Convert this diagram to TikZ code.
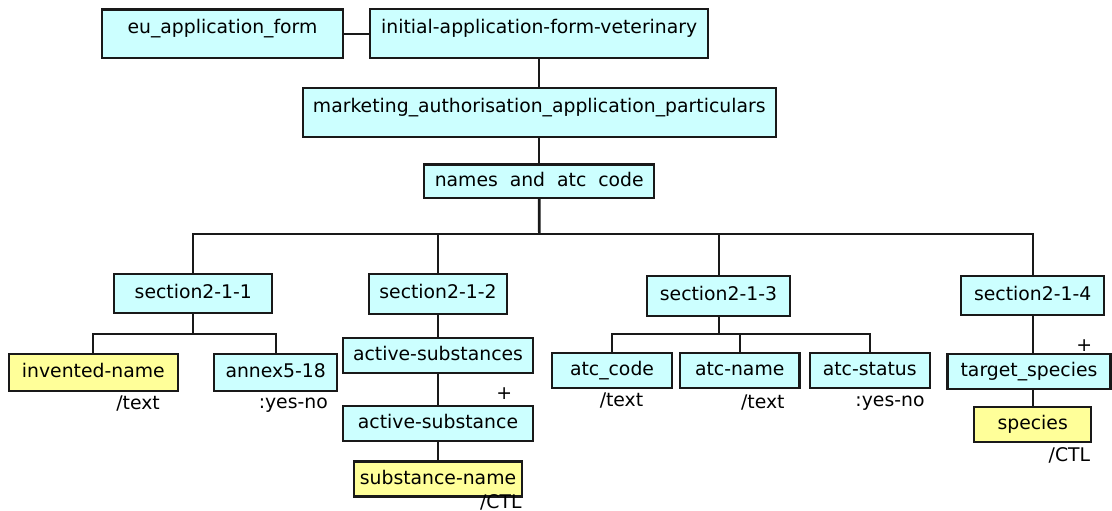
\documentclass[tikz,border=0pt]{standalone}
\usepackage{fontspec}
\setmainfont{DejaVu Sans}
\usetikzlibrary{positioning}
\definecolor{cyanbox}{HTML}{CCFFFF}
\definecolor{yellowbox}{HTML}{FFFF99}
\newcommand{\nodefont}{\fontsize{18.8}{22}\selectfont}

\begin{document}
\begin{tikzpicture}[
    x=1pt, y=-1pt,
    box/.style={rectangle, draw=black!90, line width=2.2pt, fill=cyanbox,
      inner sep=0pt, text height=14pt, text depth=4pt, font=\nodefont},
    tall/.style={box, text depth=15pt},
    leaf/.style={box, fill=yellowbox},
    line/.style={line width=2pt, black!90},
    lab/.style={inner sep=0pt, font=\nodefont}
  ]
    \useasboundingbox (0,0) rectangle (1112,511);

    \node[tall, minimum width=338pt, minimum height=49pt] (init) at (539.2,33.8) {initial-application-form-veterinary};
    \node[tall, minimum width=241pt, minimum height=48.7pt, left=25pt of init] (eu) {eu\_application\_form};
    \node[tall, minimum width=473pt, minimum height=48.7pt, below=27.7pt of init] (mark) {marketing\_authorisation\_application\_particulars};
    \node[box, minimum width=230pt, minimum height=33.3pt, below=25.3pt of mark] (names) {names\ \ and\ \ atc\ \ code};

    \node[box, minimum width=158pt, minimum height=39pt] (s1) at (193.3,293.8) {section2-1-1};
    \node[box, minimum width=138pt, minimum height=39.7pt] (s2) at (438,293.8) {section2-1-2};
    \node[box, minimum width=143.6pt, minimum height=39.7pt] (s3) at (718.5,295.8) {section2-1-3};
    \node[box, minimum width=143.3pt, minimum height=39.3pt] (s4) at (1032.7,295.3) {section2-1-4};

    \node[leaf, minimum width=168.7pt, minimum height=36.7pt] (inv) at (93.3,372.7) {invented-name};
    \node[box, minimum width=123.3pt, minimum height=36.7pt] (annex) at (275.7,372.7) {annex5-18};

    \node[box, minimum width=190.3pt, minimum height=35pt, below=22pt of s2] (actsubs) {active-substances};
    \node[box, minimum width=190.3pt, minimum height=35pt, below=31pt of actsubs] (actsub) {active-substance};
    \node[leaf, minimum width=168.4pt, minimum height=35pt, below=18.3pt of actsub] (subname) {substance-name};

    \node[box, minimum width=120pt, minimum height=35.6pt] (atccode) at (612,370.5) {atc\_code};
    \node[box, minimum width=119.6pt, minimum height=35.6pt, right=5.7pt of atccode] (atcname) {atc-name};
    \node[box, minimum width=120pt, minimum height=35.6pt, right=8pt of atcname] (atcstatus) {atc-status};

    \node[box, minimum width=163pt, minimum height=35pt] (target) at (1029,371.5) {target\_species};
    \node[leaf, minimum width=116.7pt, minimum height=35pt] (species) at (1032.7,424.2) {species};

    % type labels and repeat marks
    \node[lab, anchor=base east] (invtype) at (160,409) {/text};
    \node[lab, anchor=base east] (annextype) at (328,408) {:yes-no};
    \node[lab, anchor=base east] (subnametype) at (521.7,508.3) {/CTL};
    \node[lab, anchor=base] (atccodetype) at (621.5,406) {/text};
    \node[lab, anchor=base east] (atcnametype) at (784.7,408.3) {/text};
    \node[lab, anchor=base east] (atcstatustype) at (924.7,406) {:yes-no};
    \node[lab, anchor=base east] (speciestype) at (1090.3,461.7) {/CTL};
    \node[lab] (actsubplus) at (504.3,393.3) {+};
    \node[lab] (targetplus) at (1084.3,345.7) {+};

    \coordinate (bus) at (539.3,233.5);
    \coordinate (j1) at (193.3,334);
    \coordinate (j3) at (718.5,334);

    \draw[line] (eu) -- (init);
    \draw[line] (init) -- (mark);
    \draw[line] (mark) -- (names);
    \draw[line, line width=2.6pt] (names.south) -- (bus);
    \draw[line] (s1.north) |- (bus) -| (s4.north);
    \draw[line] (s2.north) -- (s2.north |- bus);
    \draw[line] (s3.north) -- (s3.north |- bus);

    \draw[line] (s1) -- (j1);
    \draw[line] (inv.north) |- (j1) -| (annex.north);

    \draw[line] (s2) -- (actsubs);
    \draw[line] (actsubs) -- (actsub);
    \draw[line] (actsub) -- (subname);

    \draw[line] (s3) -- (j3);
    \draw[line] (atccode.north) |- (j3) -| (atcstatus.north);
    \draw[line] (atcname.north) -- (atcname.north |- j3);

    \draw[line] (s4.south) -- (s4.south |- target.north);
    \draw[line] (species.north) -- (species.north |- target.south);
  \end{tikzpicture}
\end{document}
